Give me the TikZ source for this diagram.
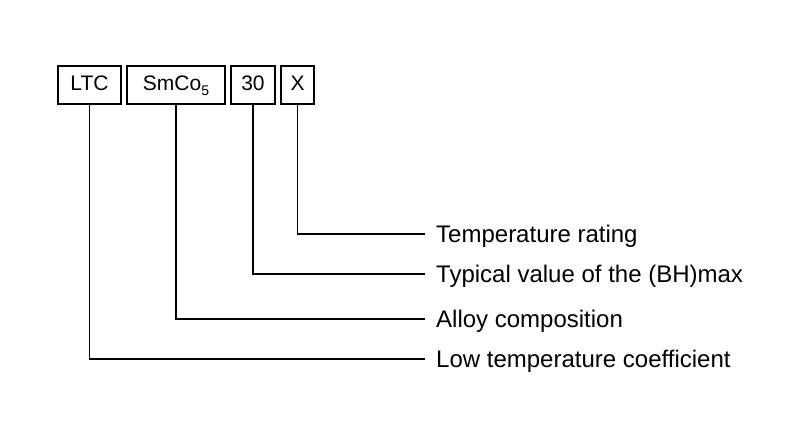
\documentclass[tikz,border=0pt]{standalone}
\usepackage{fontspec}
\setmainfont{Liberation Sans}
\begin{document}
\begin{tikzpicture}[x=1pt,y=-1pt,
  box/.style={draw,line width=1.5pt,minimum height=38pt,inner sep=0pt,text height=15pt,text depth=4pt,font=\fontsize{21}{22}\selectfont},
  lab/.style={anchor=west,inner sep=0pt,font=\fontsize{24}{24}\selectfont},
  ln/.style={line width=1.5pt}]
\useasboundingbox (0,0) rectangle (800,425);
\node[box,minimum width=63pt] (ltc) at (89.5,85) {LTC};
\node[box,minimum width=98pt] (sm) at (176,85) {SmCo\raisebox{-0.25em}{\fontsize{14}{14}\selectfont 5}};
\node[box,minimum width=44pt] (t) at (253,85) {30};
\node[box,minimum width=33pt] (x) at (297.5,85) {X};
\node[lab] (l1) at (436,236) {Temperature rating};
\node[lab] (l2) at (436,276) {Typical value of the (BH)max};
\node[lab] (l3) at (436,321) {Alloy composition};
\node[lab] (l4) at (436,361) {Low temperature coefficient};
\coordinate (e1) at (425,234);\coordinate (e2) at (425,274);
\coordinate (e3) at (425,319);\coordinate (e4) at (425,359);
\draw[ln] (x.south) |- (e1);
\draw[ln] (t.south) |- (e2);
\draw[ln] (sm.south) |- (e3);
\draw[ln] (ltc.south) |- (e4);
\end{tikzpicture}
\end{document}
